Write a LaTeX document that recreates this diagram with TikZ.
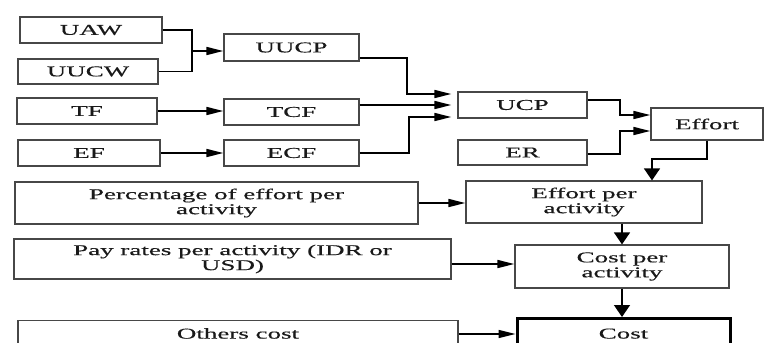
\documentclass[tikz,border=0pt]{standalone}
\usepackage{fontspec}
\newfontfamily\wide[FakeStretch=1.8,FakeBold=0.4]{Liberation Serif}
\usetikzlibrary{arrows.meta,calc}
\tikzset{
  box/.style={draw=black!72, line width=1.2pt, inner sep=0pt, align=center,
    font=\wide\fontsize{15}{15}\selectfont, text=black!90},
  conn/.style={draw=black, line width=1.5pt},
  harrow/.style={conn, -{Triangle[length=17pt,width=8pt]}},
  varrow/.style={conn, -{Triangle[length=12pt,width=16pt]}},
}
\begin{document}
\begin{tikzpicture}[x=1pt,y=-1pt]
\useasboundingbox (0,0) rectangle (764,343);
\clip (0,0) rectangle (764,343);
% left column
\node[box, minimum width=142pt, minimum height=26pt] (uaw) at (91,30) {UAW};
\node[box, minimum width=140pt, minimum height=25pt] (uucw) at (88,71.5) {UUCW};
\node[box, minimum width=140pt, minimum height=26pt] (tf) at (87,111) {TF};
\node[box, minimum width=142pt, minimum height=26pt] (ef) at (89,153) {EF};
% second column
\node[box, minimum width=135pt, minimum height=27pt] (uucp) at (291.5,47.5) {UUCP};
\node[box, minimum width=135pt, minimum height=26pt] (tcf) at (291.5,112) {TCF};
\node[box, minimum width=135pt, minimum height=26pt] (ecf) at (291.5,153) {ECF};
% third column
\node[box, minimum width=129pt, minimum height=26pt] (ucp) at (522.5,105) {UCP};
\node[box, minimum width=129pt, minimum height=25pt] (er) at (522.5,152.5) {ER};
\node[box, minimum width=112pt, minimum height=32pt] (effort) at (707,124) {Effort};
% lower rows
\node[box, minimum width=403pt, minimum height=42pt] (pct) at (216.5,203) {Percentage of effort per\\activity};
\node[box, minimum width=236pt, minimum height=42pt] (epa) at (584,202) {Effort per\\activity};
\node[box, minimum width=437pt, minimum height=40pt] (pay) at (232.5,259) {Pay rates per activity (IDR or\\USD)};
\node[box, minimum width=214pt, minimum height=43pt] (cpa) at (622,266.5) {Cost per\\activity};
\node[box, anchor=north, minimum width=440pt, text height=18pt, text depth=40pt] (others) at (238,320) {Others cost};
\node[box, anchor=north, line width=3pt, draw=black, minimum width=213pt, text height=20pt, text depth=40pt] (cost) at (623.5,317) {Cost};
% helper coordinates
\coordinate (j1) at (192,51);
\coordinate (b1) at (407,94);
\coordinate (b3) at (409,117);
\coordinate (c1) at (620,115);
\coordinate (c2) at (620,131);
\coordinate (c3) at (652,159);
% connectors
\draw[conn] (uaw.east) -| (j1) |- (uucw.east);
\draw[harrow] (j1) -- (j1 -| uucp.west);
\draw[harrow] (tf.east) -- (tf.east -| tcf.west);
\draw[harrow] (ef.east) -- (ef.east -| ecf.west);
\draw[harrow, shorten >=6pt] ([yshift=-10.5pt]uucp.east) -| (b1) -- (b1 -| ucp.west);
\draw[harrow, shorten >=6pt] ([yshift=7pt]tcf.east) -- ([yshift=7pt]tcf.east -| ucp.west);
\draw[harrow, shorten >=6pt] (ecf.east) -| (b3) -- (b3 -| ucp.west);
\draw[harrow] ([yshift=5pt]ucp.east) -| (c1) -- (c1 -| effort.west);
\draw[harrow] ([yshift=-1.5pt]er.east) -| (c2) -- (c2 -| effort.west);
\draw[varrow] (effort.south) |- (c3) -- (c3 |- epa.north);
\draw[harrow] (pct.east) -- (pct.east -| epa.west);
\draw[harrow] ([yshift=-5pt]pay.east) -- ([yshift=-5pt]pay.east -| cpa.west);
\draw[varrow] (epa.south -| cpa.north) -- (cpa.north);
\draw[varrow] (cpa.south) -- (cpa.south |- cost.north);
\draw[harrow] ([yshift=-14pt]others.north east) -- ([yshift=-14pt]others.north east -| cost.west);
\end{tikzpicture}
\end{document}
